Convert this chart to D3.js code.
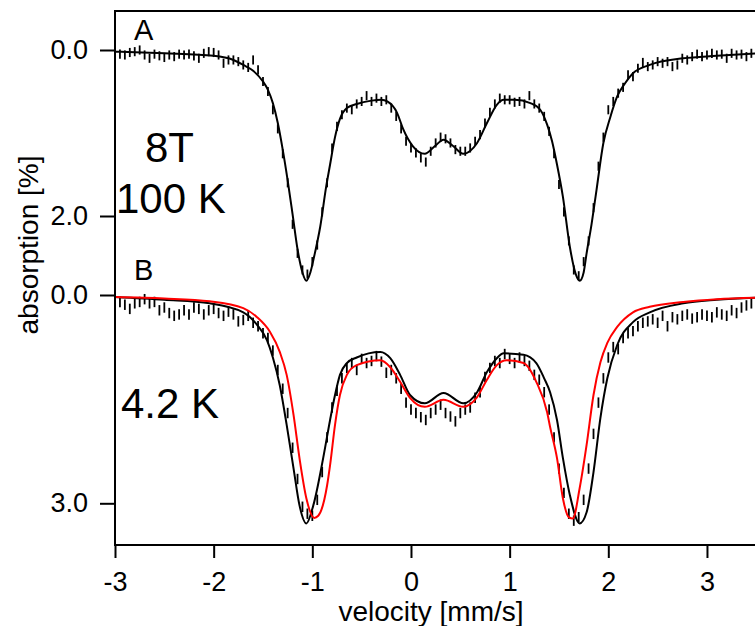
<!DOCTYPE html>
<html>
<head>
<meta charset="utf-8">
<script src="https://cdn.jsdelivr.net/npm/d3@7"></script>
<style>
  body { margin: 0; background: #fff; }
  svg { display: block; font-family: 'Liberation Sans', Arial, sans-serif; }
</style>
</head>
<body>
<svg id="chart" width="755" height="626"></svg>
<script>
// velocity channels (mm/s)
const vStart = -3
const vStep = 0.05

// panel A: 8T, 100 K - measured absorption [%]
const dataA = [
  0.03, 0.05, 0.06, 0.03, 0.02, 0.00, 0.06, 0.10, 0.05, 0.07,
  0.09, 0.06, 0.08, 0.05, 0.06, 0.05, 0.07, 0.10, 0.04, 0.02,
  0.03, 0.06, 0.16, 0.12, 0.12, 0.14, 0.18, 0.21, 0.12, 0.24,
  0.38, 0.50, 0.72, 0.95, 1.25, 1.60, 2.10, 2.45, 2.65, 2.70,
  2.55, 2.35, 1.95, 1.60, 1.18, 0.92, 0.78, 0.70, 0.72, 0.65,
  0.62, 0.55, 0.62, 0.58, 0.62, 0.60, 0.70, 0.80, 0.95, 1.10,
  1.18, 1.24, 1.30, 1.35, 1.22, 1.12, 1.05, 1.07, 1.12, 1.20,
  1.22, 1.22, 1.18, 1.10, 1.02, 0.88, 0.75, 0.65, 0.58, 0.60,
  0.60, 0.63, 0.62, 0.65, 0.55, 0.65, 0.70, 0.80, 0.98, 1.25,
  1.62, 1.95, 2.30, 2.65, 2.72, 2.55, 2.30, 1.90, 1.40, 1.05,
  0.72, 0.62, 0.52, 0.45, 0.30, 0.32, 0.22, 0.15, 0.20, 0.18,
  0.14, 0.16, 0.14, 0.20, 0.18, 0.10, 0.12, 0.08, 0.05, 0.08,
  0.06, 0.04, 0.06, 0.05, 0.10, 0.04, 0.06, 0.05, 0.08, 0.04,
  0.05
]
const errA = 0.055

// panel A fit (velocity, absorption)
const fitA = [
  [-3.0, 0.02], [-2.5, 0.04], [-2.0, 0.07], [-1.8, 0.12], [-1.7, 0.18],
  [-1.6, 0.25], [-1.5, 0.38], [-1.45, 0.48], [-1.4, 0.64], [-1.35, 0.88],
  [-1.3, 1.2], [-1.25, 1.57], [-1.2, 1.98], [-1.15, 2.4], [-1.1, 2.68],
  [-1.06, 2.78], [-1.02, 2.68], [-0.98, 2.48], [-0.92, 2.13], [-0.86, 1.65],
  [-0.82, 1.38], [-0.77, 1.05], [-0.72, 0.83], [-0.65, 0.70], [-0.55, 0.65],
  [-0.4, 0.61], [-0.3, 0.60], [-0.24, 0.62], [-0.14, 0.76], [-0.08, 0.95],
  [0.02, 1.16], [0.14, 1.25], [0.24, 1.16], [0.33, 1.08], [0.43, 1.16],
  [0.53, 1.25], [0.67, 1.12], [0.77, 0.88], [0.87, 0.66], [0.94, 0.60],
  [1.05, 0.60], [1.21, 0.64], [1.31, 0.72], [1.38, 0.9], [1.43, 1.1],
  [1.48, 1.38], [1.54, 1.77], [1.61, 2.37], [1.67, 2.7], [1.71, 2.78],
  [1.75, 2.68], [1.78, 2.45], [1.83, 2.1], [1.88, 1.69], [1.95, 1.12],
  [2.02, 0.81], [2.09, 0.56], [2.17, 0.40], [2.25, 0.28], [2.42, 0.18],
  [2.76, 0.10], [3.1, 0.07], [3.5, 0.04]
]

// panel B: 4.2 K - measured absorption [%]
const dataB = [
  0.03, 0.10, 0.14, 0.20, 0.12, 0.10, 0.06, 0.12, 0.10, 0.22,
  0.18, 0.26, 0.30, 0.28, 0.22, 0.28, 0.18, 0.20, 0.28, 0.22,
  0.20, 0.26, 0.30, 0.24, 0.28, 0.38, 0.36, 0.30, 0.40, 0.45,
  0.55, 0.62, 0.80, 1.08, 1.35, 1.70, 2.20, 2.65, 3.05, 3.15,
  3.18, 2.95, 2.55, 2.05, 1.62, 1.38, 1.20, 1.05, 0.98, 1.08,
  0.92, 0.98, 0.95, 0.88, 0.96, 1.12, 1.08, 1.20, 1.35, 1.55,
  1.65, 1.70, 1.76, 1.80, 1.70, 1.65, 1.58, 1.70, 1.75, 1.82,
  1.70, 1.65, 1.62, 1.48, 1.40, 1.18, 1.05, 0.95, 0.98, 0.85,
  0.92, 0.98, 0.90, 0.95, 1.02, 1.15, 1.22, 1.40, 1.65, 2.05,
  2.50, 2.85, 3.15, 3.25, 3.20, 2.95, 2.50, 2.00, 1.55, 1.20,
  0.90, 0.75, 0.78, 0.62, 0.55, 0.52, 0.45, 0.40, 0.38, 0.35,
  0.40, 0.30, 0.45, 0.32, 0.35, 0.30, 0.28, 0.34, 0.32, 0.28,
  0.30, 0.32, 0.25, 0.28, 0.30, 0.22, 0.26, 0.18, 0.15, 0.12,
  0.10
]
const errB = 0.075

// panel B fits: black and red
const fitB = [
  [-3.0, 0.03], [-2.5, 0.07], [-2.04, 0.12], [-1.7, 0.25], [-1.56, 0.43],
  [-1.46, 0.65], [-1.4, 0.9], [-1.33, 1.3], [-1.26, 1.87], [-1.19, 2.5],
  [-1.13, 3.03], [-1.06, 3.29], [-0.99, 3.03], [-0.89, 2.35], [-0.82, 1.8],
  [-0.77, 1.44], [-0.72, 1.15], [-0.65, 0.98], [-0.55, 0.90], [-0.31, 0.82],
  [-0.21, 0.91], [-0.11, 1.15], [-0.01, 1.44], [0.14, 1.56], [0.33, 1.41],
  [0.53, 1.56], [0.67, 1.40], [0.77, 1.11], [0.87, 0.91], [0.94, 0.84],
  [1.14, 0.86], [1.27, 0.98], [1.35, 1.2], [1.41, 1.4], [1.48, 1.8],
  [1.54, 2.35], [1.61, 2.88], [1.71, 3.29], [1.78, 3.13], [1.85, 2.55],
  [1.92, 1.77], [1.99, 1.2], [2.09, 0.72], [2.25, 0.39], [2.42, 0.25],
  [2.76, 0.12], [3.1, 0.07], [3.5, 0.04]
]
const fitBred = [
  [-3.0, 0.03], [-2.5, 0.05], [-2.04, 0.09], [-1.7, 0.19], [-1.56, 0.32],
  [-1.43, 0.53], [-1.33, 0.82], [-1.26, 1.15], [-1.19, 1.73], [-1.13, 2.35],
  [-1.06, 2.93], [-0.98, 3.21], [-0.94, 3.18], [-0.85, 2.74], [-0.82, 2.45],
  [-0.77, 1.87], [-0.72, 1.44], [-0.65, 1.15], [-0.55, 1.01], [-0.31, 0.94],
  [-0.21, 1.04], [-0.11, 1.25], [-0.01, 1.48], [0.14, 1.61], [0.33, 1.51],
  [0.53, 1.61], [0.67, 1.47], [0.77, 1.22], [0.87, 1.01], [0.97, 0.94],
  [1.14, 0.98], [1.27, 1.25], [1.38, 1.69], [1.41, 1.9], [1.48, 2.35],
  [1.54, 2.93], [1.6, 3.2], [1.64, 3.22], [1.71, 2.78], [1.78, 2.16],
  [1.85, 1.44], [1.92, 0.97], [1.99, 0.69], [2.09, 0.46], [2.25, 0.25],
  [2.42, 0.17], [2.76, 0.10], [3.1, 0.06], [3.5, 0.04]
]

const xTicks = [-3, -2, -1, 0, 1, 2, 3]
const yTicksA = [0, 2]
const yTicksB = [0, 3]

const font = "'Liberation Sans', Arial, sans-serif"
const svg = d3.select('#chart')

/// scales ////////////////////////////////
const x = d3.scaleLinear().domain([-3, 3.5]).range([115, 756.3])
const yA = d3.scaleLinear().domain([0, 2]).range([50, 216])
const yB = d3.scaleLinear().domain([0, 3]).range([295, 503.3])
const plotTop = 11
const plotBottom = 545

const velocity = i => vStart + i * vStep

/// data marks (error bars) //////////////
function drawData(values, y, err) {
  svg.append('g')
    .selectAll('line')
    .data(values)
    .join('line')
    .attr('x1', (d, i) => x(velocity(i)))
    .attr('x2', (d, i) => x(velocity(i)))
    .attr('y1', d => y(d - err))
    .attr('y2', d => y(d + err))
    .attr('stroke', '#000')
    .attr('stroke-width', 1.8)
}

function drawFit(points, y, color) {
  svg.append('path')
    .datum(points)
    .attr('d', d3.line()
      .x(d => x(d[0]))
      .y(d => y(d[1]))
      .curve(d3.curveMonotoneX))
    .attr('fill', 'none')
    .attr('stroke', color)
    .attr('stroke-width', 2)
}

drawData(dataA, yA, errA)
drawFit(fitA, yA, '#000')

drawData(dataB, yB, errB)
drawFit(fitB, yB, '#000')
drawFit(fitBred, yB, '#f00')

/// frame ////////////////////////////////
svg.append('path')
  .attr('d', `M756,${plotTop}H115V${plotBottom}H756`)
  .attr('fill', 'none')
  .attr('stroke', '#000')
  .attr('stroke-width', 2)

/// axes /////////////////////////////////
const fmtY = d3.format('.1f')

function yAxis(scale, ticks) {
  svg.append('g')
    .attr('transform', 'translate(115,0)')
    .call(d3.axisLeft(scale).tickValues(ticks).tickFormat(fmtY)
      .tickSize(15).tickPadding(12))
    .call(g => g.select('.domain').remove())
    .call(g => g.selectAll('line').attr('stroke-width', 2))
    .call(g => g.selectAll('text').attr('font-size', 27).attr('font-family', font).attr('fill', '#000'))
}
yAxis(yA, yTicksA)
yAxis(yB, yTicksB)

svg.append('g')
  .attr('transform', `translate(0,${plotBottom})`)
  .call(d3.axisBottom(x).tickValues(xTicks).tickFormat(d => String(d))
    .tickSize(13).tickPadding(14))
  .call(g => g.select('.domain').remove())
  .call(g => g.selectAll('line').attr('stroke-width', 2))
  .call(g => g.selectAll('text').attr('font-size', 27).attr('font-family', font).attr('fill', '#000'))

/// titles ///////////////////////////////
svg.append('text')
  .attr('transform', 'translate(38,245) rotate(-90)')
  .attr('text-anchor', 'middle')
  .attr('font-size', 28)
  .text('absorption [%]')

svg.append('text')
  .attr('x', 431)
  .attr('y', 621)
  .attr('text-anchor', 'middle')
  .attr('font-size', 28)
  .text('velocity [mm/s]')

/// panel labels /////////////////////////
const labels = [
  { t: 'A', x: 134, y: 40, s: 29 },
  { t: 'B', x: 134, y: 280, s: 29 },
  { t: '8T', x: 145, y: 162, s: 42 },
  { t: '100 K', x: 116, y: 213, s: 42 },
  { t: '4.2 K', x: 121, y: 418, s: 42 }
]
svg.append('g')
  .selectAll('text')
  .data(labels)
  .join('text')
  .attr('x', d => d.x)
  .attr('y', d => d.y)
  .attr('font-size', d => d.s)
  .text(d => d.t)
</script>
</body>
</html>
